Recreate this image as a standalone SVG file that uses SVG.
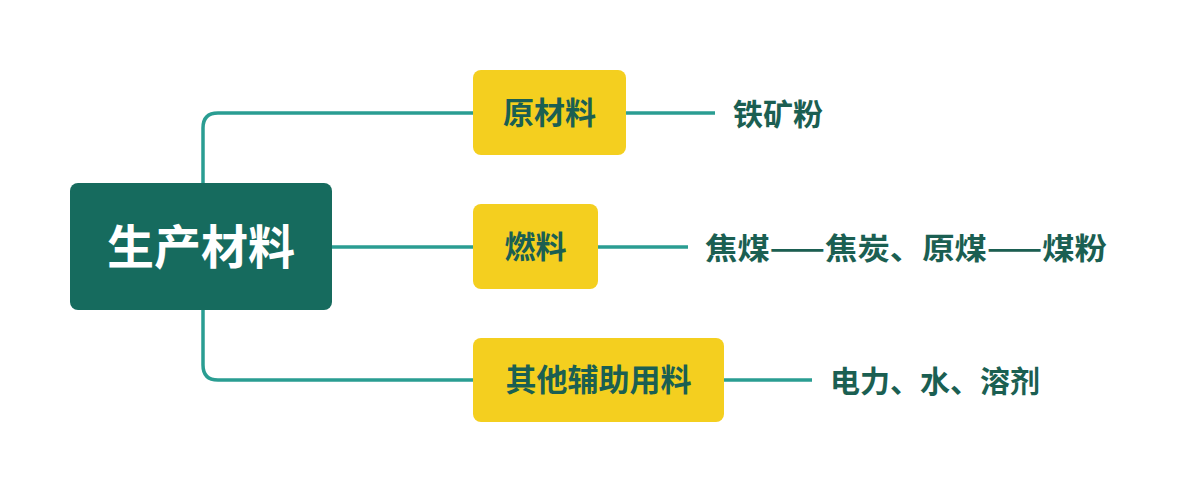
<svg xmlns="http://www.w3.org/2000/svg" width="1200" height="494" viewBox="0 0 1200 494">
<style>
.c{fill:none;stroke:#2a9d92;stroke-width:3.5}
.y{fill:#f4cf1f}
.t{font-family:"Noto Sans CJK SC",sans-serif;font-weight:bold;fill:#1b5f52}
</style>
<rect width="1200" height="494" fill="#fff"/>
<g id="connectors">
<path class="c" d="M203,183 V128 Q203,113 218,113 H473"/>
<path class="c" d="M203,310 V365 Q203,380 218,380 H473"/>
<path class="c" d="M332,247 H473"/>
<path class="c" d="M626,113 H715"/>
<path class="c" d="M598,247 H688"/>
<path class="c" d="M724,380 H812"/>
</g>
<g id="root"><rect x="70" y="183" width="262" height="127" rx="8" fill="#166b5e"/>
<text x="201" y="264" text-anchor="middle" font-family="Noto Sans CJK SC,sans-serif" font-weight="bold" font-size="47" fill="#fff">生产材料</text></g>
<g id="n1"><rect class="y" x="473" y="70" width="153" height="85" rx="8"/><text class="t" x="549.5" y="124" text-anchor="middle" font-size="31">原材料</text></g>
<g id="n2"><rect class="y" x="473" y="204" width="125" height="85" rx="8"/><text class="t" x="535.5" y="258" text-anchor="middle" font-size="31">燃料</text></g>
<g id="n3"><rect class="y" x="473" y="338" width="251" height="84" rx="8"/><text class="t" x="598.5" y="391" text-anchor="middle" font-size="31">其他辅助用料</text></g>
<g id="l1"><text class="t" x="733" y="125" font-size="30">铁矿粉</text></g>
<g id="l2"><text class="t" x="705" y="259" font-size="30" textLength="402" lengthAdjust="spacingAndGlyphs">焦煤——焦炭、原煤——煤粉</text></g>
<g id="l3"><text class="t" x="830" y="392" font-size="30">电力、水、溶剂</text></g>
</svg>
